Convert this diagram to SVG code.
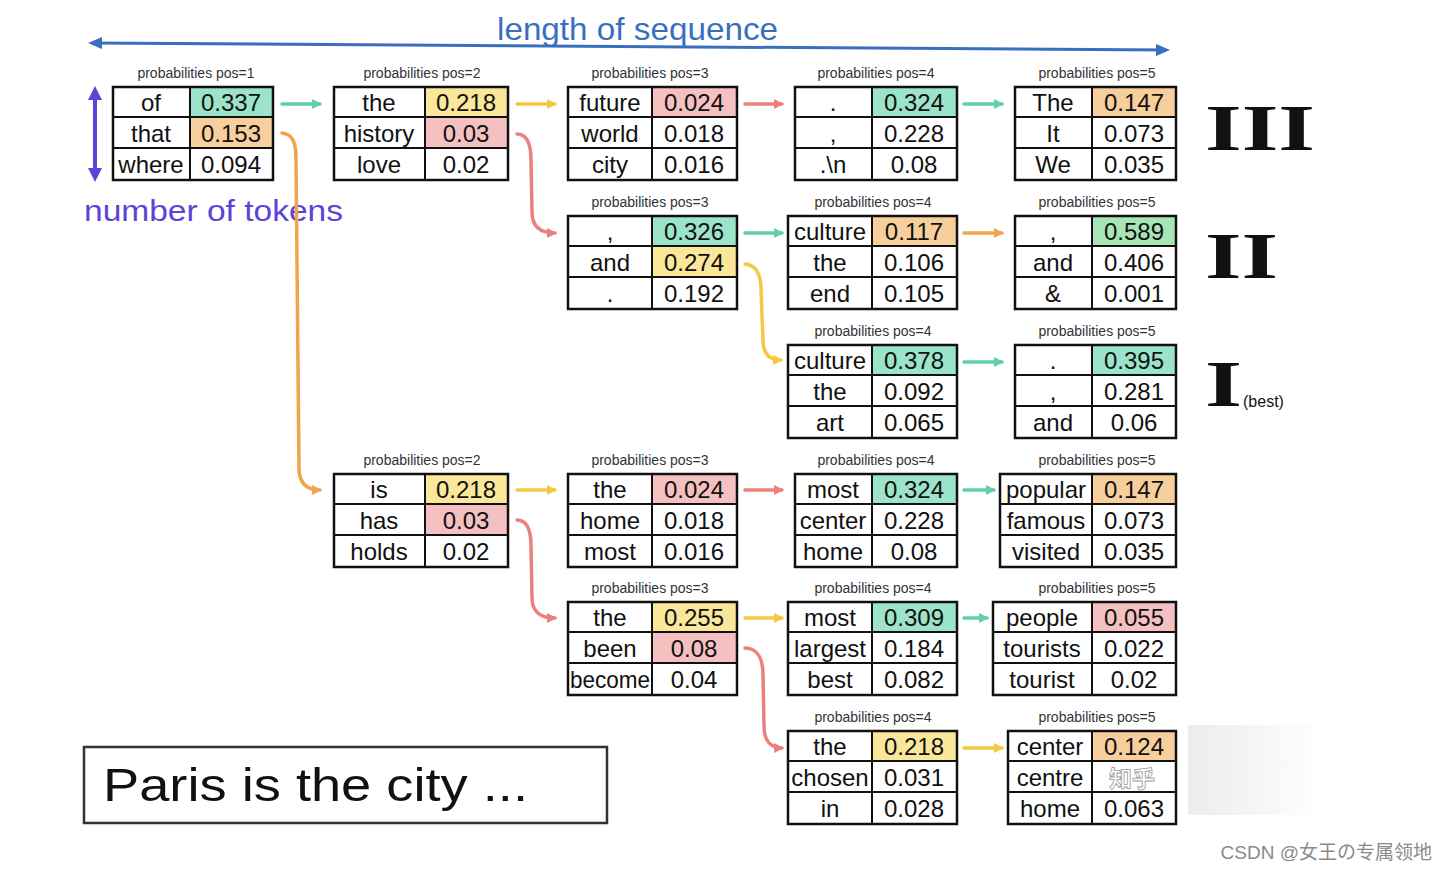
<svg xmlns="http://www.w3.org/2000/svg" width="1448" height="872" viewBox="0 0 1448 872">
<style>
.lbl{font-family:"Liberation Sans",Arial,sans-serif;font-size:14px;fill:#333;text-anchor:middle}
.c{font-family:"Liberation Sans",Arial,sans-serif;font-size:24px;fill:#111;text-anchor:middle}
.box{fill:none;stroke:#111;stroke-width:2.5}
.ln{stroke:#111;stroke-width:2}
.teal{fill:#9be3c9}.org{fill:#f6cf9c}.yel{fill:#fae79a}.pnk{fill:#f4c0c0}.grn{fill:#a6e5b5}
.a{fill:none;stroke-width:3.5;stroke-linecap:round}
.aT{stroke:#62d0a4}.aY{stroke:#f5c842}.aP{stroke:#ec8080}.aO{stroke:#f0a54c}
.rn{font-family:"Liberation Serif","Times New Roman",serif;font-weight:bold;font-size:66px;fill:#111}
</style>
<defs>
<marker id="mT" markerWidth="10" markerHeight="10" refX="8" refY="5" orient="auto" markerUnits="userSpaceOnUse" viewBox="0 0 10 10"><path d="M0,0 L10,5 L0,10 Z" fill="#62d0a4"/></marker>
<marker id="mY" markerWidth="10" markerHeight="10" refX="8" refY="5" orient="auto" markerUnits="userSpaceOnUse" viewBox="0 0 10 10"><path d="M0,0 L10,5 L0,10 Z" fill="#f5c842"/></marker>
<marker id="mP" markerWidth="10" markerHeight="10" refX="8" refY="5" orient="auto" markerUnits="userSpaceOnUse" viewBox="0 0 10 10"><path d="M0,0 L10,5 L0,10 Z" fill="#ec8080"/></marker>
<marker id="mO" markerWidth="10" markerHeight="10" refX="8" refY="5" orient="auto" markerUnits="userSpaceOnUse" viewBox="0 0 10 10"><path d="M0,0 L10,5 L0,10 Z" fill="#f0a54c"/></marker>
<marker id="mB" markerWidth="14" markerHeight="12" refX="10" refY="6" orient="auto-start-reverse" markerUnits="userSpaceOnUse" viewBox="0 0 14 12"><path d="M0,0 L14,6 L0,12 Z" fill="#3a6fbf"/></marker>
<marker id="mV" markerWidth="14" markerHeight="14" refX="10" refY="7" orient="auto-start-reverse" markerUnits="userSpaceOnUse" viewBox="0 0 14 14"><path d="M0,0 L14,7 L0,14 Z" fill="#5b45d6"/></marker>
<linearGradient id="wm" x1="0" y1="0" x2="1" y2="0"><stop offset="0" stop-color="#ececec"/><stop offset="1" stop-color="#fdfdfd"/></linearGradient>
</defs>
<rect width="1448" height="872" fill="#fff"/>

<g id="axes">
<line x1="92" y1="43" x2="1166" y2="50" stroke="#3a6fbf" stroke-width="3" marker-start="url(#mB)" marker-end="url(#mB)"/>
<text x="497" y="40" font-family="Liberation Sans,Arial,sans-serif" font-size="32" fill="#3a6fbf" textLength="281" lengthAdjust="spacingAndGlyphs">length of sequence</text>
<line x1="95" y1="90" x2="95" y2="178" stroke="#5b45d6" stroke-width="4" marker-start="url(#mV)" marker-end="url(#mV)"/>
<text x="84" y="221" font-family="Liberation Sans,Arial,sans-serif" font-size="30" fill="#5b45d6" textLength="259" lengthAdjust="spacingAndGlyphs">number of tokens</text>
</g>

<g id="connectors">
<line class="a aT" x1="282" y1="104" x2="320" y2="104" marker-end="url(#mT)"/>
<line class="a aY" x1="517" y1="104" x2="555" y2="104" marker-end="url(#mY)"/>
<line class="a aP" x1="745" y1="104" x2="782" y2="104" marker-end="url(#mP)"/>
<line class="a aT" x1="964" y1="104" x2="1002" y2="104" marker-end="url(#mT)"/>
<path class="a aO" d="M282,133 C294,134 296,145 296,160 L299,468 C299,482 305,490 320,490" marker-end="url(#mO)"/>
<path class="a aP" d="M517,134 C528,134 531,145 531,160 L532,212 C532,226 540,233 555,233" marker-end="url(#mP)"/>
<line class="a aT" x1="745" y1="233" x2="782" y2="233" marker-end="url(#mT)"/>
<line class="a aO" x1="964" y1="233" x2="1002" y2="233" marker-end="url(#mO)"/>
<path class="a aY" d="M745,264 C757,265 761,276 761,290 L763,340 C763,353 769,360 781,360" marker-end="url(#mY)"/>
<line class="a aT" x1="964" y1="362" x2="1002" y2="362" marker-end="url(#mT)"/>
<line class="a aY" x1="517" y1="490" x2="555" y2="490" marker-end="url(#mY)"/>
<line class="a aP" x1="745" y1="490" x2="782" y2="490" marker-end="url(#mP)"/>
<line class="a aT" x1="964" y1="490" x2="994" y2="490" marker-end="url(#mT)"/>
<path class="a aP" d="M517,520 C528,520 531,531 531,546 L532,598 C532,611 540,618 555,618" marker-end="url(#mP)"/>
<line class="a aY" x1="745" y1="618" x2="782" y2="618" marker-end="url(#mY)"/>
<line class="a aT" x1="964" y1="618" x2="987" y2="618" marker-end="url(#mT)"/>
<path class="a aP" d="M745,648 C758,648 763,660 763,675 L764,726 C764,740 770,748 782,748" marker-end="url(#mP)"/>
<line class="a aY" x1="964" y1="748" x2="1002" y2="748" marker-end="url(#mY)"/>
</g>

<g id="t1">
<text class="lbl" x="196" y="78">probabilities pos=1</text>
<rect class="teal" x="190" y="87" width="83" height="30"/>
<rect class="org" x="190" y="117" width="83" height="31"/>
<rect class="box" x="113" y="87" width="160" height="93"/>
<line class="ln" x1="190" y1="87" x2="190" y2="180"/><line class="ln" x1="113" y1="117" x2="273" y2="117"/><line class="ln" x1="113" y1="148" x2="273" y2="148"/>
<text class="c" x="151" y="111">of</text><text class="c" x="231" y="111">0.337</text>
<text class="c" x="151" y="142">that</text><text class="c" x="231" y="142">0.153</text>
<text class="c" x="151" y="173">where</text><text class="c" x="231" y="173">0.094</text>
</g>

<g id="t2a">
<text class="lbl" x="422" y="78">probabilities pos=2</text>
<rect class="yel" x="425" y="87" width="83" height="30"/>
<rect class="pnk" x="425" y="117" width="83" height="31"/>
<rect class="box" x="334" y="87" width="174" height="93"/>
<line class="ln" x1="425" y1="87" x2="425" y2="180"/><line class="ln" x1="334" y1="117" x2="508" y2="117"/><line class="ln" x1="334" y1="148" x2="508" y2="148"/>
<text class="c" x="379" y="111">the</text><text class="c" x="466" y="111">0.218</text>
<text class="c" x="379" y="142">history</text><text class="c" x="466" y="142">0.03</text>
<text class="c" x="379" y="173">love</text><text class="c" x="466" y="173">0.02</text>
</g>

<g id="t3a">
<text class="lbl" x="650" y="78">probabilities pos=3</text>
<rect class="pnk" x="652" y="87" width="85" height="30"/>
<rect class="box" x="568" y="87" width="169" height="93"/>
<line class="ln" x1="652" y1="87" x2="652" y2="180"/><line class="ln" x1="568" y1="117" x2="737" y2="117"/><line class="ln" x1="568" y1="148" x2="737" y2="148"/>
<text class="c" x="610" y="111">future</text><text class="c" x="694" y="111">0.024</text>
<text class="c" x="610" y="142">world</text><text class="c" x="694" y="142">0.018</text>
<text class="c" x="610" y="173">city</text><text class="c" x="694" y="173">0.016</text>
</g>

<g id="t4a">
<text class="lbl" x="876" y="78">probabilities pos=4</text>
<rect class="teal" x="872" y="87" width="85" height="30"/>
<rect class="box" x="795" y="87" width="162" height="93"/>
<line class="ln" x1="872" y1="87" x2="872" y2="180"/><line class="ln" x1="795" y1="117" x2="957" y2="117"/><line class="ln" x1="795" y1="148" x2="957" y2="148"/>
<text class="c" x="833" y="111">.</text><text class="c" x="914" y="111">0.324</text>
<text class="c" x="833" y="142">,</text><text class="c" x="914" y="142">0.228</text>
<text class="c" x="833" y="173">.\n</text><text class="c" x="914" y="173">0.08</text>
</g>

<g id="t5a">
<text class="lbl" x="1097" y="78">probabilities pos=5</text>
<rect class="org" x="1092" y="87" width="84" height="30"/>
<rect class="box" x="1015" y="87" width="161" height="93"/>
<line class="ln" x1="1092" y1="87" x2="1092" y2="180"/><line class="ln" x1="1015" y1="117" x2="1176" y2="117"/><line class="ln" x1="1015" y1="148" x2="1176" y2="148"/>
<text class="c" x="1053" y="111">The</text><text class="c" x="1134" y="111">0.147</text>
<text class="c" x="1053" y="142">It</text><text class="c" x="1134" y="142">0.073</text>
<text class="c" x="1053" y="173">We</text><text class="c" x="1134" y="173">0.035</text>
</g>

<g id="t3b">
<text class="lbl" x="650" y="207">probabilities pos=3</text>
<rect class="teal" x="652" y="216" width="85" height="30"/>
<rect class="yel" x="652" y="246" width="85" height="31"/>
<rect class="box" x="568" y="216" width="169" height="93"/>
<line class="ln" x1="652" y1="216" x2="652" y2="309"/><line class="ln" x1="568" y1="246" x2="737" y2="246"/><line class="ln" x1="568" y1="277" x2="737" y2="277"/>
<text class="c" x="610" y="240">,</text><text class="c" x="694" y="240">0.326</text>
<text class="c" x="610" y="271">and</text><text class="c" x="694" y="271">0.274</text>
<text class="c" x="610" y="302">.</text><text class="c" x="694" y="302">0.192</text>
</g>

<g id="t4b">
<text class="lbl" x="873" y="207">probabilities pos=4</text>
<rect class="org" x="872" y="216" width="85" height="30"/>
<rect class="box" x="788" y="216" width="169" height="93"/>
<line class="ln" x1="872" y1="216" x2="872" y2="309"/><line class="ln" x1="788" y1="246" x2="957" y2="246"/><line class="ln" x1="788" y1="277" x2="957" y2="277"/>
<text class="c" x="830" y="240">culture</text><text class="c" x="914" y="240">0.117</text>
<text class="c" x="830" y="271">the</text><text class="c" x="914" y="271">0.106</text>
<text class="c" x="830" y="302">end</text><text class="c" x="914" y="302">0.105</text>
</g>

<g id="t5b">
<text class="lbl" x="1097" y="207">probabilities pos=5</text>
<rect class="grn" x="1092" y="216" width="84" height="30"/>
<rect class="box" x="1015" y="216" width="161" height="93"/>
<line class="ln" x1="1092" y1="216" x2="1092" y2="309"/><line class="ln" x1="1015" y1="246" x2="1176" y2="246"/><line class="ln" x1="1015" y1="277" x2="1176" y2="277"/>
<text class="c" x="1053" y="240">,</text><text class="c" x="1134" y="240">0.589</text>
<text class="c" x="1053" y="271">and</text><text class="c" x="1134" y="271">0.406</text>
<text class="c" x="1053" y="302">&amp;</text><text class="c" x="1134" y="302">0.001</text>
</g>

<g id="t4c">
<text class="lbl" x="873" y="336">probabilities pos=4</text>
<rect class="teal" x="872" y="345" width="85" height="30"/>
<rect class="box" x="788" y="345" width="169" height="93"/>
<line class="ln" x1="872" y1="345" x2="872" y2="438"/><line class="ln" x1="788" y1="375" x2="957" y2="375"/><line class="ln" x1="788" y1="406" x2="957" y2="406"/>
<text class="c" x="830" y="369">culture</text><text class="c" x="914" y="369">0.378</text>
<text class="c" x="830" y="400">the</text><text class="c" x="914" y="400">0.092</text>
<text class="c" x="830" y="431">art</text><text class="c" x="914" y="431">0.065</text>
</g>

<g id="t5c">
<text class="lbl" x="1097" y="336">probabilities pos=5</text>
<rect class="teal" x="1092" y="345" width="84" height="30"/>
<rect class="box" x="1015" y="345" width="161" height="93"/>
<line class="ln" x1="1092" y1="345" x2="1092" y2="438"/><line class="ln" x1="1015" y1="375" x2="1176" y2="375"/><line class="ln" x1="1015" y1="406" x2="1176" y2="406"/>
<text class="c" x="1053" y="369">.</text><text class="c" x="1134" y="369">0.395</text>
<text class="c" x="1053" y="400">,</text><text class="c" x="1134" y="400">0.281</text>
<text class="c" x="1053" y="431">and</text><text class="c" x="1134" y="431">0.06</text>
</g>

<g id="t2d">
<text class="lbl" x="422" y="465">probabilities pos=2</text>
<rect class="yel" x="425" y="474" width="83" height="30"/>
<rect class="pnk" x="425" y="504" width="83" height="31"/>
<rect class="box" x="334" y="474" width="174" height="93"/>
<line class="ln" x1="425" y1="474" x2="425" y2="567"/><line class="ln" x1="334" y1="504" x2="508" y2="504"/><line class="ln" x1="334" y1="535" x2="508" y2="535"/>
<text class="c" x="379" y="498">is</text><text class="c" x="466" y="498">0.218</text>
<text class="c" x="379" y="529">has</text><text class="c" x="466" y="529">0.03</text>
<text class="c" x="379" y="560">holds</text><text class="c" x="466" y="560">0.02</text>
</g>

<g id="t3d">
<text class="lbl" x="650" y="465">probabilities pos=3</text>
<rect class="pnk" x="652" y="474" width="85" height="30"/>
<rect class="box" x="568" y="474" width="169" height="93"/>
<line class="ln" x1="652" y1="474" x2="652" y2="567"/><line class="ln" x1="568" y1="504" x2="737" y2="504"/><line class="ln" x1="568" y1="535" x2="737" y2="535"/>
<text class="c" x="610" y="498">the</text><text class="c" x="694" y="498">0.024</text>
<text class="c" x="610" y="529">home</text><text class="c" x="694" y="529">0.018</text>
<text class="c" x="610" y="560">most</text><text class="c" x="694" y="560">0.016</text>
</g>

<g id="t4d">
<text class="lbl" x="876" y="465">probabilities pos=4</text>
<rect class="teal" x="872" y="474" width="85" height="30"/>
<rect class="box" x="795" y="474" width="162" height="93"/>
<line class="ln" x1="872" y1="474" x2="872" y2="567"/><line class="ln" x1="795" y1="504" x2="957" y2="504"/><line class="ln" x1="795" y1="535" x2="957" y2="535"/>
<text class="c" x="833" y="498">most</text><text class="c" x="914" y="498">0.324</text>
<text class="c" x="833" y="529">center</text><text class="c" x="914" y="529">0.228</text>
<text class="c" x="833" y="560">home</text><text class="c" x="914" y="560">0.08</text>
</g>

<g id="t5d">
<text class="lbl" x="1097" y="465">probabilities pos=5</text>
<rect class="org" x="1092" y="474" width="84" height="30"/>
<rect class="box" x="1000" y="474" width="176" height="93"/>
<line class="ln" x1="1092" y1="474" x2="1092" y2="567"/><line class="ln" x1="1000" y1="504" x2="1176" y2="504"/><line class="ln" x1="1000" y1="535" x2="1176" y2="535"/>
<text class="c" x="1046" y="498">popular</text><text class="c" x="1134" y="498">0.147</text>
<text class="c" x="1046" y="529">famous</text><text class="c" x="1134" y="529">0.073</text>
<text class="c" x="1046" y="560">visited</text><text class="c" x="1134" y="560">0.035</text>
</g>

<g id="t3e">
<text class="lbl" x="650" y="593">probabilities pos=3</text>
<rect class="yel" x="652" y="602" width="85" height="30"/>
<rect class="pnk" x="652" y="632" width="85" height="31"/>
<rect class="box" x="568" y="602" width="169" height="93"/>
<line class="ln" x1="652" y1="602" x2="652" y2="695"/><line class="ln" x1="568" y1="632" x2="737" y2="632"/><line class="ln" x1="568" y1="663" x2="737" y2="663"/>
<text class="c" x="610" y="626">the</text><text class="c" x="694" y="626">0.255</text>
<text class="c" x="610" y="657">been</text><text class="c" x="694" y="657">0.08</text>
<text class="c" x="610" y="688" textLength="80" lengthAdjust="spacingAndGlyphs">become</text><text class="c" x="694" y="688">0.04</text>
</g>

<g id="t4e">
<text class="lbl" x="873" y="593">probabilities pos=4</text>
<rect class="teal" x="872" y="602" width="85" height="30"/>
<rect class="box" x="788" y="602" width="169" height="93"/>
<line class="ln" x1="872" y1="602" x2="872" y2="695"/><line class="ln" x1="788" y1="632" x2="957" y2="632"/><line class="ln" x1="788" y1="663" x2="957" y2="663"/>
<text class="c" x="830" y="626">most</text><text class="c" x="914" y="626">0.309</text>
<text class="c" x="830" y="657">largest</text><text class="c" x="914" y="657">0.184</text>
<text class="c" x="830" y="688">best</text><text class="c" x="914" y="688">0.082</text>
</g>

<g id="t5e">
<text class="lbl" x="1097" y="593">probabilities pos=5</text>
<rect class="pnk" x="1092" y="602" width="84" height="30"/>
<rect class="box" x="993" y="602" width="183" height="93"/>
<line class="ln" x1="1092" y1="602" x2="1092" y2="695"/><line class="ln" x1="993" y1="632" x2="1176" y2="632"/><line class="ln" x1="993" y1="663" x2="1176" y2="663"/>
<text class="c" x="1042" y="626">people</text><text class="c" x="1134" y="626">0.055</text>
<text class="c" x="1042" y="657">tourists</text><text class="c" x="1134" y="657">0.022</text>
<text class="c" x="1042" y="688">tourist</text><text class="c" x="1134" y="688">0.02</text>
</g>

<g id="t4f">
<text class="lbl" x="873" y="722">probabilities pos=4</text>
<rect class="yel" x="872" y="731" width="85" height="30"/>
<rect class="box" x="788" y="731" width="169" height="93"/>
<line class="ln" x1="872" y1="731" x2="872" y2="824"/><line class="ln" x1="788" y1="761" x2="957" y2="761"/><line class="ln" x1="788" y1="792" x2="957" y2="792"/>
<text class="c" x="830" y="755">the</text><text class="c" x="914" y="755">0.218</text>
<text class="c" x="830" y="786">chosen</text><text class="c" x="914" y="786">0.031</text>
<text class="c" x="830" y="817">in</text><text class="c" x="914" y="817">0.028</text>
</g>

<g id="t5f">
<text class="lbl" x="1097" y="722">probabilities pos=5</text>
<rect class="org" x="1092" y="731" width="84" height="30"/>
<rect class="box" x="1008" y="731" width="168" height="93"/>
<line class="ln" x1="1092" y1="731" x2="1092" y2="824"/><line class="ln" x1="1008" y1="761" x2="1176" y2="761"/><line class="ln" x1="1008" y1="792" x2="1176" y2="792"/>
<text class="c" x="1050" y="755">center</text><text class="c" x="1134" y="755">0.124</text>
<text class="c" x="1050" y="786">centre</text>
<text class="c" x="1050" y="817">home</text><text class="c" x="1134" y="817">0.063</text>
</g>

<g id="ranks">
<text class="rn" x="1205" y="150" textLength="110" lengthAdjust="spacingAndGlyphs">III</text>
<text class="rn" x="1205" y="278" textLength="73" lengthAdjust="spacingAndGlyphs">II</text>
<text class="rn" x="1205" y="406" textLength="37" lengthAdjust="spacingAndGlyphs">I</text>
<text x="1243" y="407" font-family="Liberation Sans,Arial,sans-serif" font-size="16" fill="#111">(best)</text>
</g>

<g id="prompt">
<rect x="84" y="747" width="523" height="76" fill="#fff" stroke="#333" stroke-width="2.5"/>
<text x="103" y="801" font-family="Liberation Sans,Arial,sans-serif" font-size="46" fill="#111" textLength="425" lengthAdjust="spacingAndGlyphs">Paris is the city ...</text>
</g>

<g id="watermarks">
<rect x="1188" y="725" width="124" height="90" fill="url(#wm)"/>
<text x="1132" y="787" text-anchor="middle" font-family="Noto Sans CJK SC,sans-serif" font-size="23" font-weight="bold" fill="#fff" fill-opacity="0.9" stroke="#999" stroke-width="0.8">知乎</text>
<text x="1432" y="859" text-anchor="end" font-family="Liberation Sans,Noto Sans CJK SC,sans-serif" font-size="19" fill="#8a8a8a">CSDN @女王の专属领地</text>
</g>
</svg>
